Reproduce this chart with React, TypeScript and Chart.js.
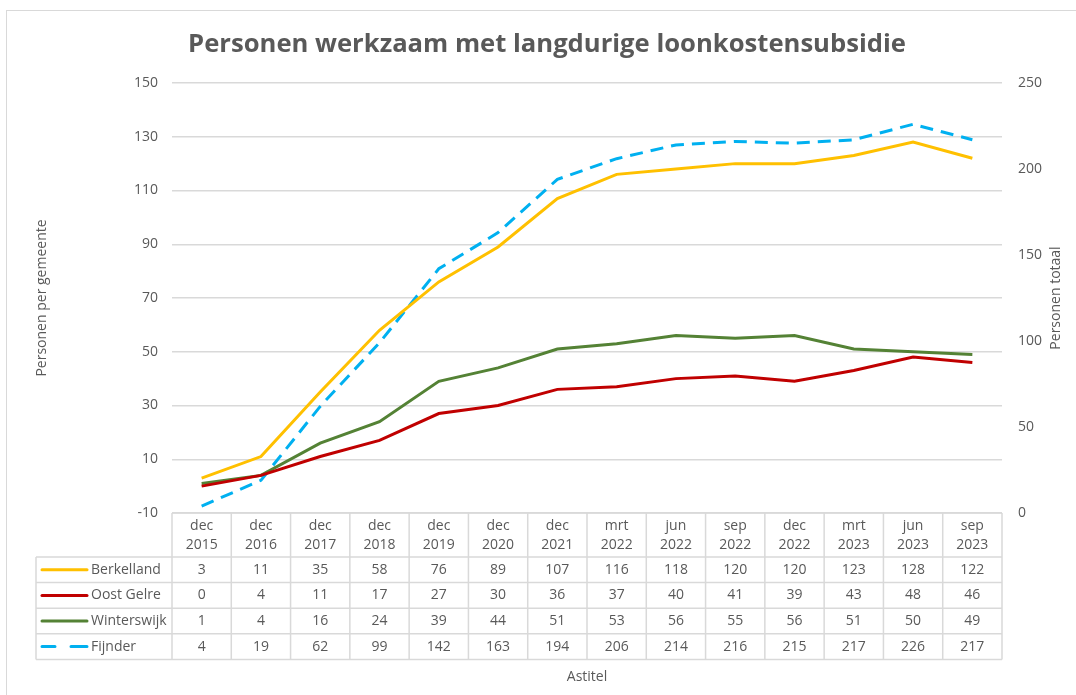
import React, { useEffect, useRef } from "react";
import { Chart, registerables } from "chart.js";

Chart.register(...registerables);

const categories = [
  ["dec", "2015"], ["dec", "2016"], ["dec", "2017"], ["dec", "2018"], ["dec", "2019"],
  ["dec", "2020"], ["dec", "2021"], ["mrt", "2022"], ["jun", "2022"], ["sep", "2022"],
  ["dec", "2022"], ["mrt", "2023"], ["jun", "2023"], ["sep", "2023"],
];
const berkelland = [3, 11, 35, 58, 76, 89, 107, 116, 118, 120, 120, 123, 128, 122];
const oostGelre = [0, 4, 11, 17, 27, 30, 36, 37, 40, 41, 39, 43, 48, 46];
const winterswijk = [1, 4, 16, 24, 39, 44, 51, 53, 56, 55, 56, 51, 50, 49];
const fijnder = [4, 19, 62, 99, 142, 163, 194, 206, 214, 216, 215, 217, 226, 217];

const leftTicks = { min: -10, max: 150, step: 20 };
const rightTicks = { min: 0, max: 250, step: 50 };

const TITLE = "Personen werkzaam met langdurige loonkostensubsidie";
const FONT = "'Open Sans', 'Noto Sans', sans-serif";
const TXT = "#595959";
const GRID = "#D9D9D9";

const tablePlugin = {
  id: "tablePlugin",
  afterDraw(chart: any) {
    const ctx = chart.ctx;
    const area = chart.chartArea;
    const xs = chart.scales.x;
    const n = categories.length;
    const colW = (area.right - area.left) / n;
    const headTop = area.bottom;
    const headBottom = headTop + 44;
    const rowH = 25.6;
    const labelLeft = 36;
    const datasets = chart.data.datasets;
    const tableBottom = headBottom + rowH * datasets.length;

    ctx.save();
    // outer border
    ctx.strokeStyle = GRID;
    ctx.lineWidth = 1;
    ctx.strokeRect(6.5, 10.5, 1100, 720);

    // title
    ctx.fillStyle = TXT;
    ctx.textAlign = "center";
    ctx.textBaseline = "middle";
    let fs = 28;
    ctx.font = `bold ${fs}px ${FONT}`;
    const w = ctx.measureText(TITLE).width;
    fs = Math.min(28, (fs * 718) / w);
    ctx.font = `bold ${fs}px ${FONT}`;
    ctx.fillText(TITLE, 547, 45);

    // axis titles
    ctx.font = `14px ${FONT}`;
    const midY = (area.top + area.bottom) / 2;
    ctx.save();
    ctx.translate(42, midY);
    ctx.rotate(-Math.PI / 2);
    ctx.fillText("Personen per gemeente", 0, 0);
    ctx.restore();
    ctx.save();
    ctx.translate(1056, midY);
    ctx.rotate(-Math.PI / 2);
    ctx.fillText("Personen totaal", 0, 0);
    ctx.restore();

    // table grid
    ctx.strokeStyle = GRID;
    ctx.lineWidth = 1.5;
    ctx.beginPath();
    ctx.moveTo(area.left, headTop);
    ctx.lineTo(area.right, headTop);
    for (let r = 0; r <= datasets.length; r++) {
      const y = headBottom + r * rowH;
      ctx.moveTo(labelLeft, y);
      ctx.lineTo(area.right, y);
    }
    for (let c = 0; c <= n; c++) {
      const x = area.left + c * colW;
      ctx.moveTo(x, headTop);
      ctx.lineTo(x, tableBottom);
    }
    ctx.moveTo(labelLeft, headBottom);
    ctx.lineTo(labelLeft, tableBottom);
    ctx.stroke();

    // header labels
    ctx.fillStyle = TXT;
    ctx.font = `14px ${FONT}`;
    ctx.textAlign = "center";
    for (let c = 0; c < n; c++) {
      const cx = xs.getPixelForValue(c);
      ctx.fillText(categories[c][0], cx, headTop + 13);
      ctx.fillText(categories[c][1], cx, headTop + 32);
    }

    // rows
    datasets.forEach((ds: any, r: number) => {
      const cy = headBottom + r * rowH + rowH / 2;
      ctx.save();
      ctx.strokeStyle = ds.borderColor;
      ctx.lineWidth = 3;
      ctx.lineCap = "round";
      ctx.beginPath();
      if (ds.borderDash && ds.borderDash.length) {
        ctx.moveTo(42, cy);
        ctx.lineTo(55, cy);
        ctx.moveTo(71, cy);
        ctx.lineTo(87, cy);
      } else {
        ctx.moveTo(42, cy);
        ctx.lineTo(87, cy);
      }
      ctx.stroke();
      ctx.restore();
      ctx.fillStyle = TXT;
      ctx.textAlign = "left";
      ctx.fillText(ds.label, 91, cy);
      ctx.textAlign = "center";
      ds.data.forEach((v: number, c: number) => {
        ctx.fillText(String(v), xs.getPixelForValue(c), cy);
      });
    });

    // x axis title
    ctx.textAlign = "center";
    ctx.fillText("Astitel", (area.left + area.right) / 2, tableBottom + 18);
    ctx.restore();
  },
};

export default function App() {
  const ref = useRef<HTMLCanvasElement>(null);
  useEffect(() => {
    if (!ref.current) return;
    const labels = categories.map((c) => c.join(" "));
    const chart = new Chart(ref.current, {
      type: "line",
      data: {
        labels,
        datasets: [
          { label: "Berkelland", data: berkelland, borderColor: "#FFC000", backgroundColor: "#FFC000", borderWidth: 3, pointRadius: 0, yAxisID: "y", tension: 0 },
          { label: "Oost Gelre", data: oostGelre, borderColor: "#C00000", backgroundColor: "#C00000", borderWidth: 3, pointRadius: 0, yAxisID: "y", tension: 0 },
          { label: "Winterswijk", data: winterswijk, borderColor: "#548235", backgroundColor: "#548235", borderWidth: 3, pointRadius: 0, yAxisID: "y", tension: 0 },
          { label: "Fijnder", data: fijnder, borderColor: "#00B0F0", backgroundColor: "#00B0F0", borderWidth: 3, borderDash: [13, 8], pointRadius: 0, yAxisID: "y1", tension: 0 },
        ],
      },
      options: {
        responsive: false,
        animation: false,
        devicePixelRatio: 1,
        layout: { padding: { left: 0, right: 0, top: 83, bottom: 182 } },
        plugins: { legend: { display: false }, title: { display: false }, tooltip: { enabled: false } },
        scales: {
          x: { type: "category", display: false, offset: true },
          y: {
            position: "left",
            min: leftTicks.min,
            max: leftTicks.max,
            ticks: { stepSize: leftTicks.step, color: TXT, font: { family: FONT, size: 14 }, padding: 14 },
            grid: { color: GRID, lineWidth: 1.5, drawTicks: false },
            border: { display: false },
            afterFit: (s: any) => { s.width = 172; },
          },
          y1: {
            position: "right",
            min: rightTicks.min,
            max: rightTicks.max,
            ticks: { stepSize: rightTicks.step, color: TXT, font: { family: FONT, size: 14 }, padding: 16 },
            grid: { display: false, drawTicks: false },
            border: { display: false },
            afterFit: (s: any) => { s.width = 74; },
          },
        },
      },
      plugins: [tablePlugin],
    } as any);
    return () => chart.destroy();
  }, []);
  return (
    <div style={{ position: "absolute", left: 0, top: 0, width: 1076, height: 695, background: "#fff" }}>
      <canvas ref={ref} width={1076} height={695} style={{ display: "block" }} />
    </div>
  );
}
